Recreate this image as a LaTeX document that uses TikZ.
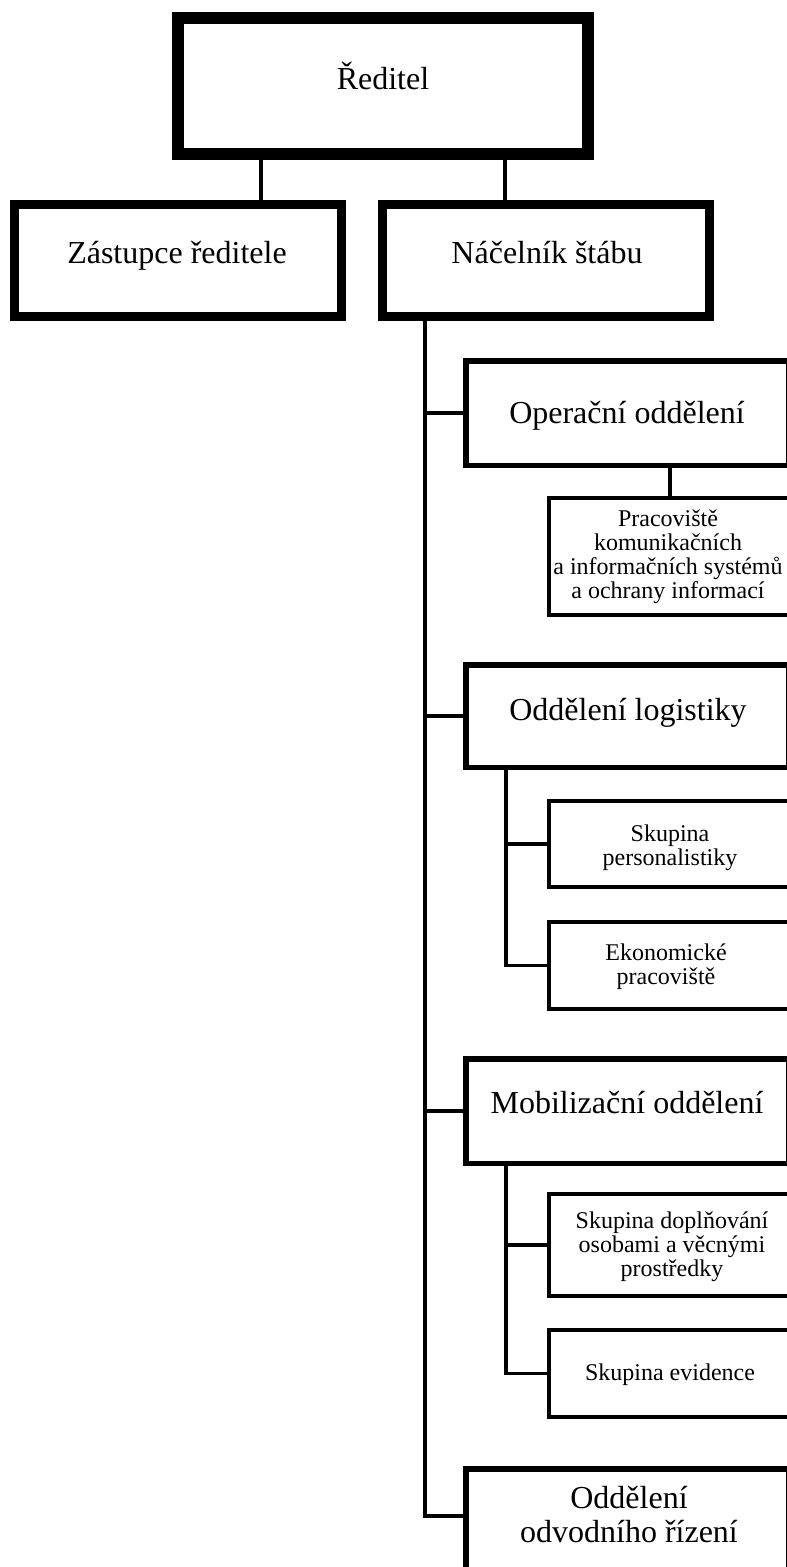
\documentclass[tikz,border=0pt]{standalone}
\usepackage{fontspec}
\setmainfont{Liberation Serif}
\begin{document}
\begin{tikzpicture}[x=1pt,y=-1pt,
  bigtxt/.style={font=\fontsize{32}{33.5}\selectfont, anchor=base, inner sep=0pt, align=center},
  smalltxt/.style={font=\fontsize{24}{23.7}\selectfont, anchor=base, inner sep=0pt, align=center},
  boxA/.style={draw, rectangle, line width=12pt, inner sep=0pt},
  boxB/.style={draw, rectangle, line width=9pt, inner sep=0pt, minimum width=327pt, minimum height=112pt},
  boxC/.style={draw, rectangle, line width=5.5pt, inner sep=0pt, minimum width=322.5pt},
  boxD/.style={draw, rectangle, line width=3.8pt, inner sep=0pt, minimum width=242pt},
  conn/.style={line width=3.3pt}
]
\useasboundingbox (0,0) rectangle (787,1567);
\clip (0,0) rectangle (787,1567);

% boxes
\node[boxA, minimum width=410pt, minimum height=136pt] (dir) at (383,86) {};
\node[boxB] (zast) at (178,260.5) {};
\node[boxB] (nac) at (546,260.5) {};
\node[boxC, minimum height=104.5pt] (oper) at (627,413) {};
\node[boxC, minimum height=102.5pt] (log) at (627,716) {};
\node[boxC, minimum height=104.5pt] (mob) at (627,1111) {};
\node[boxC, minimum height=110pt] (odv) at (627,1523.75) {};
\node[boxD, minimum height=117pt] (prac) at (670,556.5) {};
\node[boxD, minimum height=86pt] (pers) at (670,844) {};
\node[boxD, minimum height=87pt] (ekon) at (670,965.5) {};
\node[boxD, minimum height=102pt] (dopl) at (670,1245) {};
\node[boxD, minimum height=87pt] (evid) at (670,1373.5) {};

% helper coordinates
\coordinate (c1) at (261,0);
\coordinate (c2) at (505,0);
\coordinate (m) at (425,0);
\coordinate (mend) at (425,1516);
\coordinate (s) at (506,0);

% connectors
\draw[conn] (dir.south -| c1) -- (zast.north -| c1);
\draw[conn] (dir.south -| c2) -- (nac.north -| c2);
\draw[conn] (nac.south -| m) -- (mend) -- (mend -| odv.west);
\draw[conn] (oper.west -| m) -- (oper.west);
\draw[conn] (log.west -| m) -- (log.west);
\draw[conn] (mob.west -| m) -- (mob.west);
\draw[conn] (oper.south -| prac.north) -- (prac.north);
\draw[conn] (log.south -| s) |- (ekon.west);
\draw[conn] (pers.west -| s) -- (pers.west);
\draw[conn] (mob.south -| s) |- (evid.west);
\draw[conn] (dopl.west -| s) -- (dopl.west);

% texts (multi-line nodes: base = last line)
\node[bigtxt] (tdir) at (383,89) {Ředitel};
\node[bigtxt] (tzast) at (177,263) {Zástupce ředitele};
\node[bigtxt] (tnac) at (547,263) {Náčelník štábu};
\node[bigtxt] (toper) at (627,423) {Operační oddělení};
\node[smalltxt] (tprac) at (668,598) {Pracoviště\\komunikačních\\a informačních systémů\\a ochrany informací};
\node[bigtxt] (tlog) at (628,720) {Oddělení logistiky};
\node[smalltxt] (tpers) at (670,865.5) {Skupina\\personalistiky};
\node[smalltxt] (tekon) at (666,984) {Ekonomické\\pracoviště};
\node[smalltxt] (tdopl) at (672,1276) {Skupina doplňování\\osobami a věcnými\\prostředky};
\node[bigtxt] (tmob) at (627,1113) {Mobilizační oddělení};
\node[smalltxt] (tevid) at (670,1380) {Skupina evidence};
\node[bigtxt] (todv) at (629,1542) {Oddělení\\odvodního řízení};
\end{tikzpicture}
\end{document}
